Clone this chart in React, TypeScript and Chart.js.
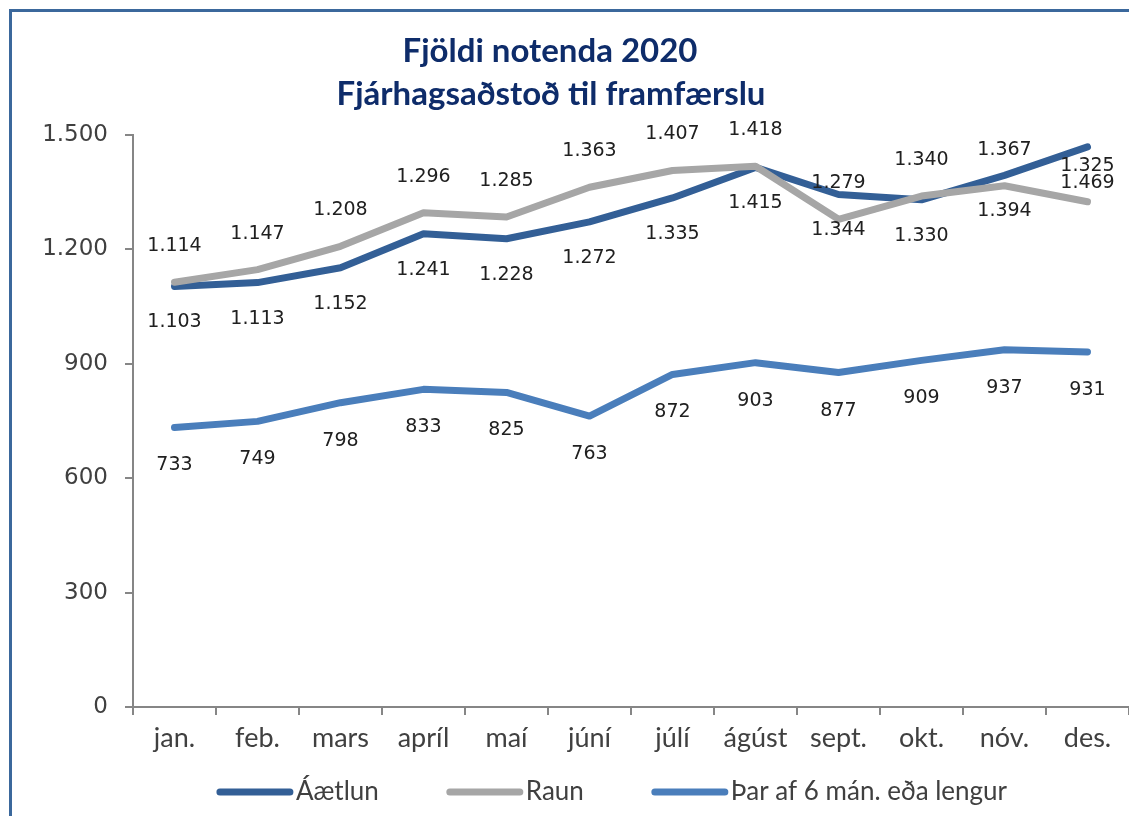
import React, { useEffect, useRef } from "react";
import { Chart, registerables } from "chart.js";

Chart.register(...registerables);

const TITLE_LINES = ["Fjöldi notenda 2020", "Fjárhagsaðstoð til framfærslu"];
const MONTHS = ["jan.", "feb.", "mars", "apríl", "maí", "júní", "júlí", "ágúst", "sept.", "okt.", "nóv.", "des."];
const SERIES_NAMES = ["Áætlun", "Raun", "Þar af 6 mán. eða lengur"];
const AAETLUN = [1103, 1113, 1152, 1241, 1228, 1272, 1335, 1415, 1344, 1330, 1394, 1469];
const RAUN = [1114, 1147, 1208, 1296, 1285, 1363, 1407, 1418, 1279, 1340, 1367, 1325];
const LENGUR = [733, 749, 798, 833, 825, 763, 872, 903, 877, 909, 937, 931];
const Y_MIN = 0;
const Y_MAX = 1500;
const Y_STEP = 300;

const COLORS = ["#335F96", "#A6A6A6", "#4A7EBB"];
const LABEL_OFFSETS = [36, -36, 38];
const AXIS_COLOR = "#868686";
const TEXT_COLOR = "#404040";
const TITLE_COLOR = "#0E2C6A";

function fmt(v: number): string {
  return String(Math.round(v)).replace(/\B(?=(\d{3})+(?!\d))/g, ".");
}

const pointLabelPlugin = {
  id: "pointLabels",
  afterDatasetsDraw(chart: any) {
    const ctx = chart.ctx;
    ctx.save();
    ctx.font = '19px "DejaVu Sans"';
    ctx.fillStyle = "#202020";
    ctx.textAlign = "center";
    ctx.textBaseline = "middle";
    chart.data.datasets.forEach((ds: any, i: number) => {
      const meta = chart.getDatasetMeta(i);
      meta.data.forEach((pt: any, j: number) => {
        ctx.fillText(fmt(ds.data[j]), pt.x, pt.y + LABEL_OFFSETS[i]);
      });
    });
    ctx.restore();
  },
};

const titlePlugin = {
  id: "twoLineTitle",
  afterDraw(chart: any) {
    const ctx = chart.ctx;
    ctx.save();
    ctx.font = 'bold 33px "Lato"';
    ctx.fillStyle = TITLE_COLOR;
    ctx.textAlign = "center";
    ctx.textBaseline = "middle";
    ctx.fillText(TITLE_LINES[0], 550, 51);
    ctx.fillText(TITLE_LINES[1], 551, 94);
    ctx.restore();
  },
};

const legendPlugin = {
  id: "lineLegend",
  afterDraw(chart: any) {
    const ctx = chart.ctx;
    ctx.save();
    ctx.font = '26px "Lato"';
    ctx.textBaseline = "middle";
    ctx.textAlign = "left";
    const lineLen = 76;
    const gap = 3;
    const spacing = 68;
    const widths = SERIES_NAMES.map((n) => ctx.measureText(n).width);
    const total =
      widths.reduce((a, w) => a + lineLen + gap + w, 0) + spacing * (SERIES_NAMES.length - 1);
    let x = 612 - total / 2;
    const y = 792;
    SERIES_NAMES.forEach((name, i) => {
      ctx.strokeStyle = COLORS[i];
      ctx.lineWidth = 7;
      ctx.lineCap = "round";
      ctx.beginPath();
      ctx.moveTo(x + 3, y);
      ctx.lineTo(x + lineLen - 3, y);
      ctx.stroke();
      x += lineLen + gap;
      ctx.fillStyle = TEXT_COLOR;
      ctx.fillText(name, x, y);
      x += widths[i] + spacing;
    });
    ctx.restore();
  },
};

export default function App() {
  const canvasRef = useRef<HTMLCanvasElement | null>(null);

  useEffect(() => {
    document.body.style.margin = "0";
    const canvas = canvasRef.current;
    if (!canvas) return;
    const seriesData = [AAETLUN, RAUN, LENGUR];
    const chart = new Chart(canvas, {
      type: "line",
      data: {
        labels: MONTHS,
        datasets: SERIES_NAMES.map((name, i) => ({
          label: name,
          data: seriesData[i],
          borderColor: COLORS[i],
          backgroundColor: COLORS[i],
          borderWidth: 7,
          pointRadius: 0,
          pointHoverRadius: 0,
          tension: 0,
          borderCapStyle: "round",
          borderJoinStyle: "round",
          fill: false,
          order: i === 1 ? 1 : i === 0 ? 2 : 3,
        })),
      },
      options: {
        animation: false,
        responsive: false,
        events: [],
        layout: { padding: { top: 135, left: 0, right: 0, bottom: 0 } },
        plugins: {
          legend: { display: false },
          title: { display: false },
          tooltip: { enabled: false },
        },
        scales: {
          x: {
            type: "category",
            offset: true,
            grid: {
              display: true,
              drawOnChartArea: false,
              drawTicks: true,
              tickLength: 8,
              color: AXIS_COLOR,
              lineWidth: 2,
              offset: true,
            },
            border: { display: true, color: AXIS_COLOR, width: 2 },
            ticks: {
              font: { family: "Lato", size: 27 },
              color: TEXT_COLOR,
              padding: 7,
              maxRotation: 0,
              autoSkip: false,
            },
            afterFit(scale: any) {
              scale.height = 109;
            },
          },
          y: {
            min: Y_MIN,
            max: Y_MAX,
            grid: {
              display: true,
              drawOnChartArea: false,
              drawTicks: true,
              tickLength: 8,
              color: AXIS_COLOR,
              lineWidth: 2,
            },
            border: { display: true, color: AXIS_COLOR, width: 2 },
            ticks: {
              stepSize: Y_STEP,
              callback: (v: any) => fmt(Number(v)),
              font: { family: "DejaVu Sans", size: 23 },
              color: TEXT_COLOR,
              padding: 17,
            },
            afterFit(scale: any) {
              scale.width = 133;
            },
          },
        },
      },
      plugins: [pointLabelPlugin, titlePlugin, legendPlugin],
    });
    return () => chart.destroy();
  }, []);

  return (
    <div style={{ position: "relative", width: 1129, height: 816, overflow: "hidden", background: "#ffffff" }}>
      <div
        style={{
          position: "absolute",
          left: 9,
          top: 9,
          width: 1300,
          height: 1000,
          borderTop: "3px solid #3B689C",
          borderLeft: "3px solid #3B689C",
          boxSizing: "border-box",
        }}
      />
      <canvas
        ref={canvasRef}
        width={1129}
        height={816}
        style={{ position: "absolute", left: 0, top: 0, width: 1129, height: 816, display: "block" }}
      />
    </div>
  );
}
